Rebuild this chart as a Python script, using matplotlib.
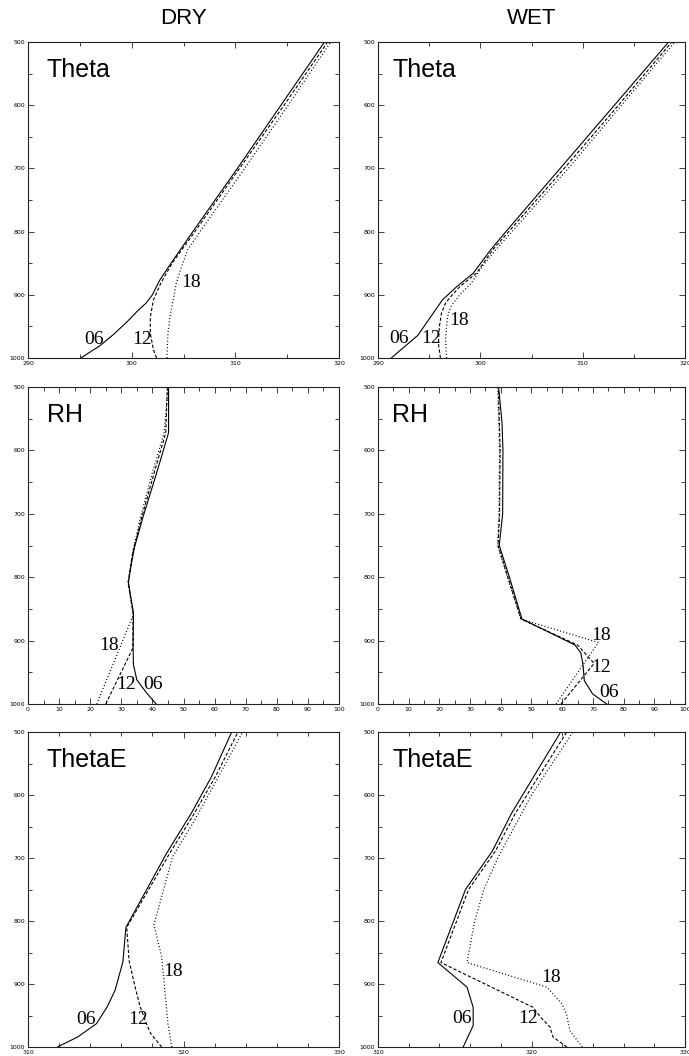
import matplotlib
matplotlib.use("Agg")
import matplotlib.pyplot as plt
from matplotlib.ticker import MultipleLocator

# ---------------- data ----------------
column_titles = ["DRY", "WET"]
panel_titles = ["Theta", "RH", "ThetaE"]
hour_labels = ["06", "12", "18"]

# DRY Theta
dry_theta_p06 = [1000, 981, 962, 942, 925, 913, 900, 877, 850, 800, 700, 600, 500]
dry_theta_v06 = [295.1, 296.9, 298.3, 299.6, 300.6, 301.4, 302.0, 302.7, 303.8, 305.9, 310.2, 314.4, 318.6]
dry_theta_p12 = [1000, 987, 961, 935, 908, 882, 850, 800, 700, 600, 500]
dry_theta_v12 = [302.4, 302.1, 301.8, 301.8, 302.1, 302.8, 303.9, 306.1, 310.4, 314.7, 318.9]
dry_theta_p18 = [1000, 961, 935, 908, 882, 856, 829, 800, 700, 600, 500]
dry_theta_v18 = [303.4, 303.5, 303.7, 304.0, 304.3, 304.8, 305.4, 306.6, 310.9, 315.1, 319.2]

# WET Theta
wet_theta_p06 = [1000, 964, 908, 887, 866, 829, 800, 700, 600, 500]
wet_theta_v06 = [291.3, 293.9, 296.3, 297.7, 299.3, 301.0, 302.5, 307.8, 313.1, 318.4]
wet_theta_p12 = [1000, 977, 950, 929, 913, 903, 887, 866, 829, 700, 600, 500]
wet_theta_v12 = [296.1, 295.9, 296.0, 296.2, 296.6, 297.1, 298.0, 299.6, 301.2, 308.2, 313.5, 318.7]
wet_theta_p18 = [1000, 971, 950, 935, 919, 908, 898, 882, 855, 829, 700, 600, 500]
wet_theta_v18 = [296.7, 296.6, 296.7, 296.8, 297.1, 297.6, 298.1, 299.1, 300.2, 301.5, 308.6, 313.8, 319.0]

# DRY RH
dry_rh_p06 = [1000, 983, 962, 938, 914, 856, 824, 808, 792, 761, 750, 703, 635, 572, 500]
dry_rh_v06 = [41.2, 38.2, 35.0, 33.9, 33.8, 33.9, 32.8, 32.3, 32.8, 33.9, 34.4, 37.1, 41.4, 45.2, 45.2]
dry_rh_p12 = [1000, 912, 856, 824, 808, 792, 761, 703, 635, 572, 500]
dry_rh_v12 = [25.0, 33.7, 33.8, 32.7, 32.2, 32.7, 33.7, 36.7, 40.6, 44.3, 44.8]
dry_rh_p18 = [1000, 860, 824, 808, 792, 761, 703, 635, 572, 500]
dry_rh_v18 = [22.1, 33.8, 32.7, 32.2, 32.7, 33.6, 36.3, 40.0, 43.8, 45.0]

# WET RH
wet_rh_p06 = [1000, 984, 963, 939, 920, 907, 866, 800, 750, 700, 600, 557, 500]
wet_rh_v06 = [74.5, 69.9, 67.2, 66.8, 66.1, 64.2, 46.9, 42.8, 39.5, 40.6, 40.7, 40.4, 39.3]
wet_rh_p12 = [1000, 936, 907, 866, 800, 750, 700, 600, 500]
wet_rh_v12 = [59.6, 70.4, 65.0, 46.6, 42.3, 39.1, 39.6, 39.8, 39.2]
wet_rh_p18 = [1000, 903, 866, 800, 750, 700, 600, 500]
wet_rh_v18 = [58.0, 71.8, 46.5, 42.2, 39.0, 39.4, 39.6, 39.0]

# DRY ThetaE
dry_te_p06 = [1000, 984, 963, 936, 910, 865, 810, 693, 629, 571, 500]
dry_te_v06 = [311.9, 313.2, 314.4, 315.1, 315.6, 316.1, 316.3, 318.9, 320.5, 321.8, 323.1]
dry_te_p12 = [1000, 979, 962, 935, 906, 863, 810, 693, 629, 571, 500]
dry_te_v12 = [318.6, 317.9, 317.6, 317.2, 316.9, 316.5, 316.35, 319.1, 320.7, 322.05, 323.5]
dry_te_p18 = [1000, 963, 910, 857, 806, 698, 645, 587, 500]
dry_te_v18 = [319.25, 319.0, 318.8, 318.6, 318.1, 319.3, 320.6, 321.9, 323.8]

# WET ThetaE
wet_te_p06 = [1000, 966, 937, 905, 866, 750, 689, 629, 500]
wet_te_v06 = [315.55, 316.2, 316.2, 315.8, 313.9, 315.7, 317.45, 318.7, 321.9]
wet_te_p12 = [1000, 984, 968, 953, 937, 866, 750, 689, 629, 500]
wet_te_v12 = [322.3, 321.4, 321.2, 320.6, 320.1, 314.1, 315.9, 317.65, 318.95, 322.3]
wet_te_p18 = [1000, 974, 950, 932, 905, 866, 800, 750, 700, 600, 500]
wet_te_v18 = [323.3, 322.5, 322.3, 322.0, 321.0, 315.8, 316.3, 316.9, 317.8, 320.0, 322.7]

# hour-label positions (value, pressure) per panel: 06, 12, 18
dry_theta_lab = [(296.4, 971), (301.0, 971), (305.75, 881)]
wet_theta_lab = [(292.1, 969), (295.2, 969), (297.9, 941)]
dry_rh_lab = [(40.3, 970), (31.4, 970), (26.1, 907)]
wet_rh_lab = [(75.3, 982), (72.6, 943), (72.6, 892)]
dry_te_lab = [(313.7, 956), (317.05, 956), (319.35, 880)]
wet_te_lab = [(315.5, 955), (319.8, 955), (321.3, 890)]

# axis settings
theta_xlim = (290, 320)
rh_xlim = (0, 100)
te_xlim = (310, 330)
p_lim = (1000, 500)

# ---------------- figure ----------------
W, H = 689, 1056
fig = plt.figure(figsize=(W / 100, H / 100), dpi=100)

col_x = [(28, 339), (378, 685)]
row_y = [(42, 358), (387, 704), (732, 1047)]


def make_ax(col, row):
    x0, x1 = col_x[col]
    y0, y1 = row_y[row]
    return fig.add_axes([x0 / W, 1 - y1 / H, (x1 - x0) / W, (y1 - y0) / H])


panels = [
    (0, 0, theta_xlim, 10, 5,
     [(dry_theta_p06, dry_theta_v06), (dry_theta_p12, dry_theta_v12), (dry_theta_p18, dry_theta_v18)], dry_theta_lab),
    (0, 1, theta_xlim, 10, 5,
     [(wet_theta_p06, wet_theta_v06), (wet_theta_p12, wet_theta_v12), (wet_theta_p18, wet_theta_v18)], wet_theta_lab),
    (1, 0, rh_xlim, 10, 5,
     [(dry_rh_p06, dry_rh_v06), (dry_rh_p12, dry_rh_v12), (dry_rh_p18, dry_rh_v18)], dry_rh_lab),
    (1, 1, rh_xlim, 10, 5,
     [(wet_rh_p06, wet_rh_v06), (wet_rh_p12, wet_rh_v12), (wet_rh_p18, wet_rh_v18)], wet_rh_lab),
    (2, 0, te_xlim, 10, 2,
     [(dry_te_p06, dry_te_v06), (dry_te_p12, dry_te_v12), (dry_te_p18, dry_te_v18)], dry_te_lab),
    (2, 1, te_xlim, 10, 2,
     [(wet_te_p06, wet_te_v06), (wet_te_p12, wet_te_v12), (wet_te_p18, wet_te_v18)], wet_te_lab),
]

styles = [
    dict(linestyle="-", linewidth=0.8),
    dict(linestyle=(0, (3.0, 1.8)), linewidth=0.8),
    dict(linestyle=(0, (0.8, 1.8)), linewidth=0.9),
]

for row, col, xlim, major, minor, series, labs in panels:
    ax = make_ax(col, row)
    for (p, v), st in zip(series, styles):
        ax.plot(v, p, color="black", **st)
    ax.set_xlim(*xlim)
    ax.set_ylim(*p_lim)
    ax.xaxis.set_major_locator(MultipleLocator(major))
    ax.xaxis.set_minor_locator(MultipleLocator(minor))
    ax.yaxis.set_major_locator(MultipleLocator(100))
    ax.yaxis.set_minor_locator(MultipleLocator(50))
    ax.tick_params(which="both", direction="in", top=True, right=True,
                   labelsize=4.5, pad=2, width=0.6, color="#222222")
    ax.tick_params(which="major", length=4)
    ax.tick_params(which="minor", length=3)
    for s in ax.spines.values():
        s.set_linewidth(0.8)
        s.set_color("#222222")
    xoff = 0.061 if col == 0 else 0.047
    ax.text(xoff, 0.889, panel_titles[row], transform=ax.transAxes,
            fontsize=18, family="Liberation Sans", ha="left", va="baseline")
    for (lx, lp), txt in zip(labs, hour_labels):
        ax.text(lx, lp, txt, fontsize=14, family="Liberation Serif",
                ha="center", va="center")
    if col == 1:
        fig.canvas.draw()
        lbls = [t for t in ax.get_xticklabels() if t.get_text()]
        if lbls:
            lbls[-1].set_horizontalalignment("right")

for i, t in enumerate(column_titles):
    x0, x1 = col_x[i]
    fig.text((x0 + x1) / 2 / W, 1 - 19 / H, t, fontsize=16,
             family="Liberation Sans", ha="center", va="center")

fig.savefig("out.png", dpi=100)
